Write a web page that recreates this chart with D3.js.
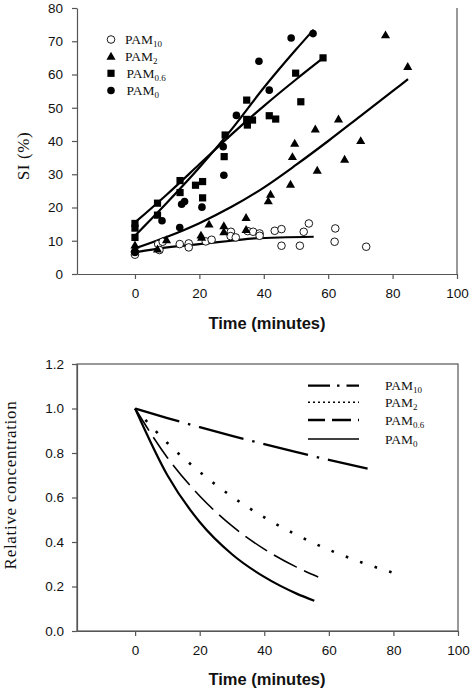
<!DOCTYPE html>
<html><head><meta charset="utf-8">
<script src="https://cdn.jsdelivr.net/npm/d3@7"></script>
<style>body{margin:0;background:#fff}svg{display:block}</style>
</head><body>
<script>
// ---------- DATA ----------
const xTicks = [0, 20, 40, 60, 80, 100];
const siTicks = [0, 10, 20, 30, 40, 50, 60, 70, 80];
const rcTicks = [0, 0.2, 0.4, 0.6, 0.8, 1.0, 1.2];
const seriesNames = ["PAM10", "PAM2", "PAM0.6", "PAM0"];

// Top chart scatter: [time, SI]
const pam10Pts = [[0,6.5],[0,5.8],[7.2,9],[7.6,7.2],[8.6,9.7],[13.9,9],[16.7,9.2],[16.7,8],[22,9.8],[23.8,10.3],[29.8,12.7],[29.7,11.4],[31.3,11],[35,12.9],[36.7,12.7],[38.7,12.2],[38.7,11.5],[43.4,13],[45.5,13.5],[45.5,8.5],[51.2,8.5],[52.4,12.7],[54,15.2],[62.2,13.7],[62,9.7],[71.8,8.2]];
const pam2Pts = [[0,8.7],[0,7.7],[7,7.5],[9.8,10.3],[20.5,11.7],[20.7,11],[23,15],[27.6,14.5],[27.6,12.7],[34.5,17],[34.5,13.4],[41.4,22],[42.1,24],[48.3,27],[48.9,35.3],[49.6,39.3],[56,43.6],[56.6,31.2],[63.2,46.6],[65.1,34.5],[70.1,40.1],[77.8,71.9],[84.7,62.4]];
const pam06Pts = [[0,15.2],[0,13.8],[0,11],[7,21.3],[7,17.7],[14,28.1],[14,24.5],[18.8,26.7],[21,27.8],[21,22.9],[27.7,35.3],[28,41.8],[34.7,52.3],[34.7,46.5],[36.5,46.3],[34.9,44.8],[41.7,47.6],[43.7,46.6],[49.9,60.4],[51.5,51.8],[58.4,65]];
const pam0Pts = [[0,6.5],[8.4,16],[13.9,14],[14.5,21],[15.4,21.8],[20.8,20.1],[27.6,29.7],[27.4,38.3],[31.5,47.7],[38.5,64],[41.7,55.3],[48.5,71],[55.3,72.3]];

// Top chart fitted lines
const pam10Fit = [[0,6.5],[10,8],[20,9],[30,10],[37,10.7],[55.5,11.2]];
const pam2Fit = [[0,7.7],[10,11.2],[20,15.3],[30,20.2],[40,26],[50,32.8],[60,40],[70,47.5],[80,55],[84.8,58.6]];
const pam06Fit = [[0,15.5],[10,24],[20,33],[30,42],[40,50.5],[50,58.5],[58.5,65]];
const pam0Fit = [[0,11.5],[10,21.5],[20,32],[30,43.5],[40,56],[50,67.5],[55.5,73.5]];

// Bottom chart curves: [time, relative concentration]
const pam10Conc = [[0,1],[10,0.957],[20,0.916],[30,0.877],[40,0.84],[50,0.804],[60,0.769],[72,0.73]];
const pam2Conc = [[0,1],[10,0.845],[20,0.715],[30,0.604],[40,0.511],[50,0.432],[60,0.365],[70,0.309],[80,0.261]];
const pam06Conc = [[0,1],[10,0.779],[20,0.607],[30,0.472],[40,0.368],[50,0.287],[56.7,0.243]];
const pam0Conc = [[0,1],[10,0.70],[20,0.49],[30,0.345],[40,0.243],[50,0.168],[55.5,0.136]];

// ---------- DRAW ----------
const W = 474, H = 692;
const svg = d3.select("body").append("svg").attr("width", W).attr("height", H);
const SANS = "'Liberation Sans', Arial, sans-serif";
const SERIF = "'Liberation Serif', 'Times New Roman', serif";
const AX = "#555";

function styleAxis(g) {
  g.selectAll("path.domain").attr("stroke", AX).attr("stroke-width", 1.2);
  g.selectAll(".tick line").attr("stroke", AX).attr("stroke-width", 1.2);
  g.selectAll(".tick text").attr("font-family", SANS).attr("font-size", 13.5).attr("fill", "#111");
}
function pamLabel(sel, x, y, name, size, subSize) {
  const base = name.slice(0, 3), sub = name.slice(3);
  const t = sel.append("text").attr("x", x).attr("y", y)
    .attr("font-family", SERIF).attr("font-size", size).attr("fill", "#111");
  t.append("tspan").text(base);
  t.append("tspan").attr("dy", 3).attr("font-size", subSize).text(sub);
}

// ===== Top chart =====
const x1 = d3.scaleLinear().domain([-18, 100]).range([77, 457]);
const y1 = d3.scaleLinear().domain([0, 80]).range([274, 8]);
const topG = svg.append("g");

const gx1 = topG.append("g").attr("transform", `translate(0,${y1(0)})`)
  .call(d3.axisBottom(x1).tickValues(xTicks).tickSize(5).tickSizeOuter(0).tickPadding(9));
styleAxis(gx1);
const gy1 = topG.append("g").attr("transform", `translate(${x1(-18)},0)`)
  .call(d3.axisLeft(y1).tickValues(siTicks).tickSize(5).tickSizeOuter(0).tickPadding(9));
styleAxis(gy1);
topG.append("line").attr("x1", x1(100)).attr("x2", x1(100)).attr("y1", y1(80)).attr("y2", y1(0))
  .attr("stroke", AX).attr("stroke-width", 1.2);

const line1 = d3.line().x(d => x1(d[0])).y(d => y1(d[1])).curve(d3.curveMonotoneX);
[pam10Fit, pam2Fit, pam06Fit, pam0Fit].forEach(f => {
  topG.append("path").attr("d", line1(f)).attr("fill", "none").attr("stroke", "#000").attr("stroke-width", 2.2);
});

function marker(g, type, cx, cy) {
  if (type === "open") g.append("circle").attr("cx", cx).attr("cy", cy).attr("r", 3.8)
    .attr("fill", "#fff").attr("stroke", "#000").attr("stroke-width", 0.9);
  else if (type === "circle") g.append("circle").attr("cx", cx).attr("cy", cy).attr("r", 3.8).attr("fill", "#000");
  else if (type === "square") g.append("rect").attr("x", cx - 3.6).attr("y", cy - 3.6).attr("width", 7.2).attr("height", 7.2).attr("fill", "#000");
  else if (type === "tri") g.append("path").attr("d", d3.symbol(d3.symbolTriangle, 36)()).attr("transform", `translate(${cx},${cy + 0.8})`).attr("fill", "#000");
}
const ptsG = topG.append("g");
pam10Pts.forEach(d => marker(ptsG, "open", x1(d[0]), y1(d[1])));
pam2Pts.forEach(d => marker(ptsG, "tri", x1(d[0]), y1(d[1])));
pam06Pts.forEach(d => marker(ptsG, "square", x1(d[0]), y1(d[1])));
pam0Pts.forEach(d => marker(ptsG, "circle", x1(d[0]), y1(d[1])));

// Top legend
const leg1Types = ["open", "tri", "square", "circle"];
const leg1Y = [39.5, 56.3, 73.3, 90.5];
seriesNames.forEach((n, i) => {
  marker(topG, leg1Types[i], 111, leg1Y[i]);
  pamLabel(topG, i < 2 ? 125 : 126.5, leg1Y[i] + 4.5, n, 13.5, 9);
});

// Top titles
topG.append("text").attr("transform", `translate(29,156) rotate(-90)`).attr("text-anchor", "middle")
  .attr("font-family", SERIF).attr("font-size", 17).attr("letter-spacing", 0.6).attr("fill", "#111").text("SI (%)");
topG.append("text").attr("x", 267).attr("y", 329).attr("text-anchor", "middle")
  .attr("font-family", SANS).attr("font-weight", "bold").attr("font-size", 16.5).attr("fill", "#111").text("Time (minutes)");

// ===== Bottom chart =====
const x2 = d3.scaleLinear().domain([-18, 100]).range([77, 458]);
const y2 = d3.scaleLinear().domain([0, 1.2]).range([631, 364]);
const botG = svg.append("g");
botG.append("rect").attr("x", x2(-18)).attr("y", y2(1.2)).attr("width", x2(100) - x2(-18)).attr("height", y2(0) - y2(1.2))
  .attr("fill", "none").attr("stroke", AX).attr("stroke-width", 1.2);
const gx2 = botG.append("g").attr("transform", `translate(0,${y2(0)})`)
  .call(d3.axisBottom(x2).tickValues(xTicks).tickSize(5).tickSizeOuter(0).tickPadding(9));
styleAxis(gx2);
const gy2 = botG.append("g").attr("transform", `translate(${x2(-18)},0)`)
  .call(d3.axisLeft(y2).tickValues(rcTicks).tickFormat(d3.format(".1f")).tickSize(5).tickSizeOuter(0).tickPadding(8));
styleAxis(gy2);

const line2 = d3.line().x(d => x2(d[0])).y(d => y2(d[1])).curve(d3.curveMonotoneX);
const curveStyles = [
  { data: pam10Conc, dash: "46,9,2.5,9", w: 2.3 },
  { data: pam2Conc, dash: "2.6,12.7", w: 2.6 },
  { data: pam06Conc, dash: "26,8", w: 1.6 },
  { data: pam0Conc, dash: null, w: 2.2 }
];
curveStyles.forEach(c => {
  const p = botG.append("path").attr("d", line2(c.data)).attr("fill", "none").attr("stroke", "#000").attr("stroke-width", c.w);
  if (c.dash) p.attr("stroke-dasharray", c.dash);
});

// Bottom legend
const legDash = ["22,7,2.5,7,22", "2,3", "17,7,19,7,6", null];
const legW = [2.3, 1.6, 2.3, 1.4];
const leg2Y = [385.7, 402.3, 420, 439];
seriesNames.forEach((n, i) => {
  const l = botG.append("line").attr("x1", 308).attr("x2", 359).attr("y1", leg2Y[i]).attr("y2", leg2Y[i])
    .attr("stroke", "#000").attr("stroke-width", legW[i]);
  if (legDash[i]) l.attr("stroke-dasharray", legDash[i]);
  pamLabel(botG, 385, leg2Y[i] + 4.5, n, 13.5, 9);
});

botG.append("text").attr("transform", `translate(16,485) rotate(-90)`).attr("text-anchor", "middle")
  .attr("font-family", SERIF).attr("font-size", 17).attr("letter-spacing", 0.7).attr("fill", "#111").text("Relative concentration");
botG.append("text").attr("x", 267).attr("y", 685).attr("text-anchor", "middle")
  .attr("font-family", SANS).attr("font-weight", "bold").attr("font-size", 16.5).attr("fill", "#111").text("Time (minutes)");
</script>
</body></html>
